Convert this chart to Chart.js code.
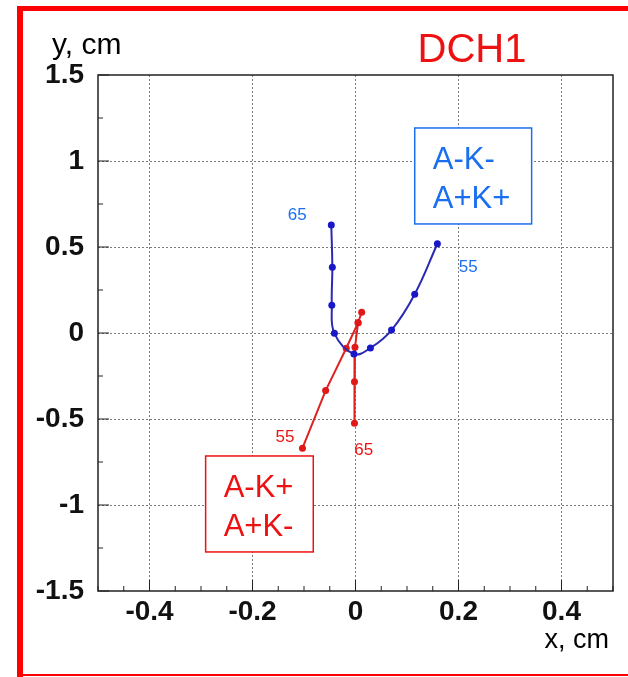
<!DOCTYPE html>
<html>
<head>
<meta charset="utf-8">
<script src="https://cdn.jsdelivr.net/npm/chart.js@4"></script>
<style>
  html, body { margin: 0; padding: 0; background: #fff; }
  #wrap { width: 628px; height: 677px; position: relative; }
</style>
</head>
<body>
<div id="wrap"><canvas id="dch1"></canvas></div>
<script>
// Track positions in DCH1, cm
const blueX = [-0.047, -0.045, -0.046, -0.041, -0.003, 0.029, 0.070, 0.115, 0.159];
const blueY = [0.628, 0.382, 0.161, -0.002, -0.122, -0.087, 0.017, 0.225, 0.519];
const redX = [-0.103, -0.058, -0.018, 0.005, 0.012, 0.005, -0.001, -0.002, -0.002];
const redY = [-0.670, -0.335, -0.089, 0.060, 0.120, 0.060, -0.083, -0.283, -0.525];

const xTickLabels = [-0.4, -0.2, 0, 0.2, 0.4];
const yTickLabels = [-1.5, -1, -0.5, 0, 0.5, 1, 1.5];

// end-point labels (value, x, y, colour)
const endLabels = [
  { text: '65', x: -0.113, y: 0.686, color: '#1a6ff0' },
  { text: '55', x: 0.219, y: 0.384, color: '#1a6ff0' },
  { text: '55', x: -0.137, y: -0.605, color: '#ee1111' },
  { text: '65', x: 0.016, y: -0.680, color: '#ee1111' }
];

const boxes = [
  { lines: ['A-K-', 'A+K+'], x0: 0.115, x1: 0.342, y0: 1.192, y1: 0.634, color: '#1a6ff0' },
  { lines: ['A-K+', 'A+K-'], x0: -0.291, x1: -0.082, y0: -0.715, y1: -1.273, color: '#ee1111' }
];

const BLUE_LINE = '#2a2ab4';
const RED_LINE = '#de2222';
const FONT = '"Liberation Sans", Arial, Helvetica, sans-serif';

function toPoints(xs, ys) {
  return xs.map((x, i) => ({ x: x, y: ys[i] }));
}

function isLabelled(v, list) {
  return list.some(t => Math.abs(t - v) < 1e-6);
}

// frame, inner tick marks, texts and boxes
const decorations = {
  id: 'decorations',
  beforeDraw(chart) {
    const ctx = chart.ctx;
    ctx.save();
    ctx.fillStyle = '#fff';
    ctx.fillRect(0, 0, chart.width, chart.height);
    ctx.restore();
  },
  afterDraw(chart) {
    const ctx = chart.ctx;
    const area = chart.chartArea;
    const xs = chart.scales.x;
    const ys = chart.scales.y;
    ctx.save();

    // plot frame
    ctx.strokeStyle = '#222';
    ctx.lineWidth = 1.5;
    ctx.strokeRect(area.left, area.top, area.right - area.left, area.bottom - area.top);

    // inner tick marks
    ctx.lineWidth = 1;
    for (let i = -10; i <= 10; i++) {
      const v = i * 0.05;
      const px = xs.getPixelForValue(v);
      const len = (i % 4 === 0) ? 11 : 5;
      ctx.beginPath();
      ctx.moveTo(px, area.bottom);
      ctx.lineTo(px, area.bottom - len);
      ctx.stroke();
    }
    for (let i = -6; i <= 6; i++) {
      const v = i * 0.25;
      const py = ys.getPixelForValue(v);
      const len = (i % 2 === 0) ? 11 : 5;
      ctx.beginPath();
      ctx.moveTo(area.left, py);
      ctx.lineTo(area.left + len, py);
      ctx.stroke();
    }

    // boxes
    boxes.forEach(b => {
      const l = xs.getPixelForValue(b.x0), r = xs.getPixelForValue(b.x1);
      const t = ys.getPixelForValue(b.y0), btm = ys.getPixelForValue(b.y1);
      ctx.fillStyle = '#fff';
      ctx.fillRect(l, t, r - l, btm - t);
      ctx.strokeStyle = b.color;
      ctx.lineWidth = 1.5;
      ctx.strokeRect(l, t, r - l, btm - t);
      ctx.fillStyle = b.color;
      ctx.font = '31px ' + FONT;
      ctx.textAlign = 'left';
      ctx.textBaseline = 'alphabetic';
      const h = btm - t;
      ctx.fillText(b.lines[0], l + 18, t + h * 0.43);
      ctx.fillText(b.lines[1], l + 18, t + h * 0.83);
    });

    // end-point labels
    ctx.font = '17px ' + FONT;
    ctx.textAlign = 'center';
    ctx.textBaseline = 'middle';
    endLabels.forEach(lb => {
      ctx.fillStyle = lb.color;
      ctx.fillText(lb.text, xs.getPixelForValue(lb.x), ys.getPixelForValue(lb.y));
    });

    // titles
    ctx.fillStyle = '#ee1111';
    ctx.font = '40px ' + FONT;
    ctx.textAlign = 'center';
    ctx.textBaseline = 'alphabetic';
    ctx.fillText('DCH1', 472, 62);

    ctx.fillStyle = '#000';
    ctx.font = '30px ' + FONT;
    ctx.textAlign = 'left';
    ctx.fillText('y, cm', 52, 54);
    ctx.font = '27px ' + FONT;
    ctx.textAlign = 'right';
    ctx.fillText('x, cm', 609, 648);

    // red outer frame
    ctx.fillStyle = '#ff0000';
    ctx.fillRect(17, 6, 6, chart.height - 6);
    ctx.fillRect(17, 6, chart.width - 17, 5);
    ctx.fillRect(20, 674, chart.width - 20, 2);
    ctx.restore();
  }
};

function gridColor(list) {
  return function (c) {
    const v = c.tick ? c.tick.value : null;
    if (v === null) return 'rgba(0,0,0,0)';
    const ends = list[0] === -1.5 ? 1.5 : 0.5;
    if (isLabelled(v, list) && Math.abs(Math.abs(v) - ends) > 1e-6) return '#7a7a7a';
    return 'rgba(0,0,0,0)';
  };
}

new Chart(document.getElementById('dch1'), {
  type: 'scatter',
  data: {
    datasets: [
      {
        label: 'A-K- / A+K+',
        data: toPoints(blueX, blueY),
        showLine: true,
        borderColor: BLUE_LINE,
        backgroundColor: '#1818c8',
        borderWidth: 2,
        pointRadius: 3.5,
        pointBorderWidth: 0,
        tension: 0.4
      },
      {
        label: 'A-K+ / A+K-',
        data: toPoints(redX, redY),
        showLine: true,
        borderColor: RED_LINE,
        backgroundColor: '#e01818',
        borderWidth: 2,
        pointRadius: 3.5,
        pointBorderWidth: 0,
        tension: 0
      }
    ]
  },
  options: {
    responsive: true,
    maintainAspectRatio: false,
    animation: false,
    layout: { padding: { left: 0, top: 75, right: 15, bottom: 0 } },
    plugins: {
      legend: { display: false },
      tooltip: { enabled: false }
    },
    scales: {
      x: {
        type: 'linear',
        min: -0.5,
        max: 0.5,
        afterFit: (scale) => { scale.height = 86; },
        grid: { drawTicks: false, color: gridColor(xTickLabels), lineWidth: 1 },
        border: { display: false, dash: [2, 2] },
        ticks: {
          stepSize: 0.05,
          autoSkip: false,
          maxRotation: 0,
          padding: 4,
          color: '#111',
          font: { family: FONT, size: 28, weight: 'bold' },
          callback: (v) => isLabelled(v, xTickLabels) ? String(Math.round(v * 10) / 10) : ''
        }
      },
      y: {
        type: 'linear',
        min: -1.5,
        max: 1.5,
        afterFit: (scale) => { scale.width = 98; },
        grid: { drawTicks: false, color: gridColor(yTickLabels), lineWidth: 1 },
        border: { display: false, dash: [2, 2] },
        ticks: {
          stepSize: 0.25,
          autoSkip: false,
          padding: 14,
          color: '#111',
          font: { family: FONT, size: 28, weight: 'bold' },
          callback: (v) => isLabelled(v, yTickLabels) ? String(Math.round(v * 10) / 10) : ''
        }
      }
    }
  },
  plugins: [decorations]
});
</script>
</body>
</html>
